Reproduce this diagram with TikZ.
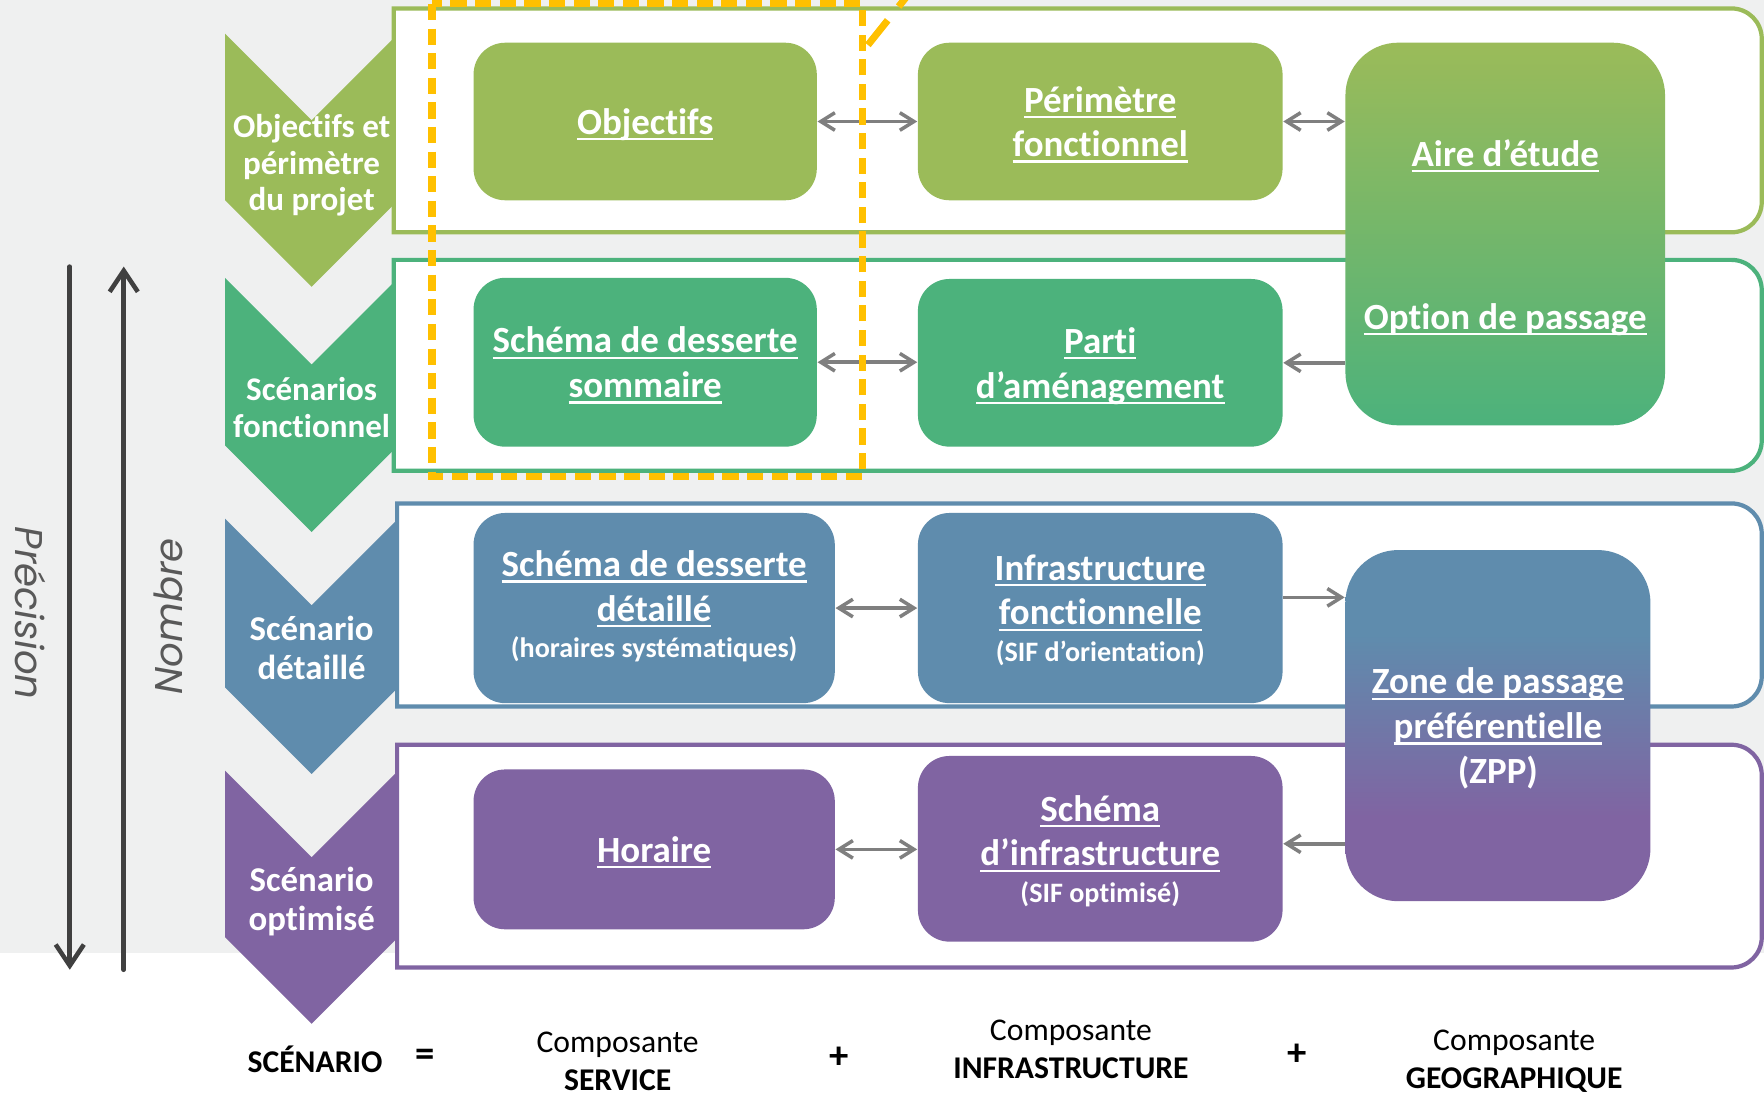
\documentclass[tikz,border=0pt]{standalone}
\usepackage{fontspec}
\setmainfont{Carlito}[Ligatures=NoCommon]
\newfontfamily\gothicfont{Poppins}
\usetikzlibrary{arrows.meta,calc,positioning}
\definecolor{olivegreen}{RGB}{155,187,89}
\definecolor{mintgreen}{RGB}{76,178,124}
\definecolor{steelblue}{RGB}{95,140,173}
\definecolor{lavender}{RGB}{128,100,162}
\definecolor{paleground}{RGB}{239,240,240}
\definecolor{linkgrey}{RGB}{127,127,127}
\definecolor{axisgrey}{RGB}{64,64,64}
\definecolor{labelgrey}{RGB}{89,89,89}
\definecolor{focusyellow}{RGB}{255,192,0}
\pgfdeclareverticalshading{zppshade}{100bp}{color(0bp)=(lavender); color(37bp)=(lavender); color(63bp)=(steelblue); color(100bp)=(steelblue)}
\newsavebox\ulbox
\newcommand\ulw[1]{\sbox\ulbox{#1}\rlap{\rule[-1.7pt]{\wd\ulbox}{0.65pt}}\usebox\ulbox}

\begin{document}
\begin{tikzpicture}[
    x=0.01125cm,y=-0.01125cm,
    box/.style={rounded corners=9pt,text=white,align=center,inner sep=0pt,text depth=0pt,font={\fontsize{10.5}{12.7}\selectfont\bfseries}},
    tallbox/.style={box,rounded corners=15pt},
    boxtext/.style={text=white,inner sep=0pt,text depth=0pt,font={\fontsize{10.5}{12.7}\selectfont\bfseries}},
    phase/.style={text=white,align=center,inner sep=0pt,font={\fontsize{9.4}{10.4}\selectfont\bfseries}},
    bigphase/.style={phase,font={\fontsize{9.9}{11.2}\selectfont\bfseries}},
    band/.style={fill=white,line width=1.2pt},
    link/.style={draw=linkgrey,line width=1pt,>={Straight Barb[length=4pt,width=5pt]}},
    axis/.style={draw=axisgrey,line width=1.3pt,line cap=round,>={Straight Barb[length=6pt,width=8pt]}},
    axislabel/.style={text=labelgrey,inner sep=0pt,font={\gothicfont\itshape\fontsize{11}{13}\selectfont}},
    legend/.style={align=center,inner sep=0pt,font={\fontsize{9}{10.8}\selectfont}},
    sign/.style={inner sep=0pt,font={\fontsize{11}{13}\selectfont\bfseries}},
    focus/.style={draw=focusyellow,line width=2pt,dash pattern=on 4.6pt off 2.4pt}
  ]
  \useasboundingbox (0,0) rectangle (1568,972);
  \clip (0,0) rectangle (1568,972);

  % Background
  \fill[white] (0,0) rectangle (1568,972);
  \fill[paleground] (0,0) rectangle (1568,847);

  % Phases (chevrons)
  \fill[olivegreen] (200,30) -- (277,107) -- (354,30) -- (354,178) -- (277,255) -- (200,178) -- cycle;
  \fill[mintgreen] (200,247) -- (277,324) -- (354,247) -- (354,396) -- (277,473) -- (200,396) -- cycle;
  \fill[steelblue] (200,461) -- (277,538) -- (354,461) -- (354,611) -- (277,688) -- (200,611) -- cycle;
  \fill[lavender] (200,685) -- (277,762) -- (354,685) -- (354,833) -- (277,910) -- (200,833) -- cycle;

  \node[phase] (phaseobj) at (277,147) {Objectifs et\\périmètre\\du projet};
  \node[phase] (phasefct) at (277,362) {Scénarios\\fonctionnel};
  \node[bigphase] (phasedet) at (277,576) {Scénario\\détaillé};
  \node[bigphase] (phaseopt) at (277,801.5) {Scénario\\optimisé};

  % Bands
  \draw[band,draw=olivegreen] (350,7.5) -- (1539,7.5) .. controls (1554,7.5) and (1566,19.5) .. (1566,34.5) -- (1566,179.5) .. controls (1566,194.5) and (1554,206.5) .. (1539,206.5) -- (350,206.5) -- cycle;
  \draw[band,draw=mintgreen] (350,231) -- (1539,231) .. controls (1554,231) and (1566,243) .. (1566,258) -- (1566,391.5) .. controls (1566,406.5) and (1554,418.5) .. (1539,418.5) -- (350,418.5) -- cycle;
  \draw[band,draw=steelblue] (353,447.5) -- (1539,447.5) .. controls (1554,447.5) and (1566,459.5) .. (1566,474.5) -- (1566,601) .. controls (1566,616) and (1554,628) .. (1539,628) -- (353,628) -- cycle;
  \draw[band,draw=lavender] (353,662) -- (1539,662) .. controls (1554,662) and (1566,674) .. (1566,689) -- (1566,833) .. controls (1566,848) and (1554,860) .. (1539,860) -- (353,860) -- cycle;

  % Boxes
  \node[box,fill=olivegreen,minimum width=3.431cm,minimum height=1.575cm] (obj) at (573.5,108) {\ulw{Objectifs}};
  \node[box,fill=olivegreen,minimum width=3.645cm,minimum height=1.575cm] (perim) at (978,108) {\ulw{Périmètre}\\\ulw{fonctionnel}};
  \node[tallbox,top color=olivegreen,bottom color=mintgreen,minimum width=3.195cm,minimum height=3.825cm] (aire) at (1338,208) {};
  \node[boxtext] (aireetude) at (1338,136) {\ulw{Aire d’étude}};
  \node[boxtext] (optionpassage) at (1338,281) {\ulw{Option de passage}};

  \node[box,fill=mintgreen,minimum width=3.431cm,minimum height=1.688cm] (sdsom) at (573.5,322) {\ulw{Schéma de desserte}\\\ulw{sommaire}};
  \node[box,fill=mintgreen,minimum width=3.645cm,minimum height=1.676cm] (parti) at (978,322.5) {\ulw{Parti}\\\ulw{d’aménagement}};

  \node[box,fill=steelblue,text depth=2.2pt,minimum width=3.611cm,minimum height=1.901cm] (sddet) at (581.5,540.5) {\ulw{Schéma de desserte}\\\ulw{détaillé}\\[-2.3pt]{\fontsize{8}{9.6}\selectfont (horaires systématiques)}};
  \node[box,fill=steelblue,minimum width=3.645cm,minimum height=1.901cm] (infra) at (978,540.5) {\ulw{Infrastructure}\\\ulw{fonctionnelle}\\[-2.3pt]{\fontsize{8}{9.6}\selectfont (SIF d’orientation)}};
  \node[tallbox,shading=zppshade,minimum width=3.049cm,minimum height=3.51cm] (zpp) at (1331.5,645) {\ulw{Zone de passage}\\\ulw{préférentielle}\\(ZPP)};

  \node[box,fill=lavender,minimum width=3.611cm,minimum height=1.598cm] (hor) at (581.5,755) {\ulw{Horaire}};
  \node[box,fill=lavender,minimum width=3.645cm,minimum height=1.856cm] (sinfra) at (978,754.5) {\ulw{Schéma}\\\ulw{d’infrastructure}\\[-2.3pt]{\fontsize{8}{9.6}\selectfont (SIF optimisé)}};

  % Links
  \draw[link,<->] (obj.east) -- (obj.east -| perim.west);
  \draw[link,<->] (perim.east) -- (perim.east -| aire.west);
  \draw[link,<->] (sdsom.east) -- (sdsom.east -| parti.west);
  \draw[link,->] (parti.east -| aire.west) -- (parti.east);
  \draw[link,<->] (sddet.east) -- (sddet.east -| infra.west);
  \draw[link,->] ($(infra.east)+(0,-9.5)$) -- ($(infra.east -| zpp.west)+(0,-9.5)$);
  \draw[link,<->] (hor.east) -- (hor.east -| sinfra.west);
  \draw[link,->] ($(sinfra.east -| zpp.west)+(0,-4.5)$) -- ($(sinfra.east)+(0,-4.5)$);

  % Focus frame
  \draw[focus] (384,3.5) rectangle (767,423.5);
  \coordinate (tickfoot) at (771.5,40);
  \coordinate (tickhead) at (807.5,-5);
  \draw[focus,dash pattern=on 9pt off 5pt] (tickfoot) -- (tickhead);

  % Axes
  \coordinate (precisiontop) at (62,237);
  \coordinate (precisionbot) at (62,862);
  \coordinate (nombrebot) at (110,862);
  \coordinate (nombretop) at (110,237);
  \draw[axis,->] (precisiontop) -- (precisionbot);
  \draw[axis,->] (nombrebot) -- (nombretop);
  \node[axislabel,rotate=-90] (precisionlabel) at (27,545) {Précision};
  \node[axislabel,rotate=90] (nombrelabel) at (150,548) {Nombre};

  % Legend
  \node[legend,font={\fontsize{9}{10.8}\selectfont\bfseries}] (scenario) at (280,942) {SCÉNARIO};
  \node[sign] (equals) at (378,940) {=};
  \node[legend] (service) at (549,943) {Composante\\\textbf{SERVICE}};
  \node[sign] (plusone) at (746,940) {+};
  \node[legend] (infrastructure) at (952,933) {Composante\\\textbf{INFRASTRUCTURE}};
  \node[sign] (plustwo) at (1153,938) {+};
  \node[legend] (geographique) at (1346,943) {Composante\\\textbf{GEOGRAPHIQUE}};
\end{tikzpicture}
\end{document}
